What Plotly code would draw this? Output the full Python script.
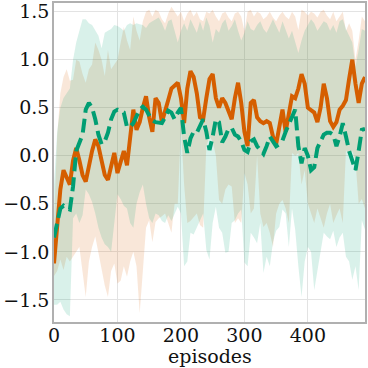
import plotly.graph_objects as go

episodes = list(range(0, 495, 5))

orange_mean = [
    -1.12, -0.75, -0.35, -0.15, -0.22, -0.30, -0.05, 0.08, -0.05, -0.20,
    -0.27, -0.10, 0.05, 0.17, 0.10, -0.05, -0.20, -0.25, -0.10, 0.03,
    -0.18, -0.05, 0.05, -0.10, 0.20, 0.48, 0.27, 0.35, 0.50, 0.62,
    0.40, 0.25, 0.60, 0.55, 0.35, 0.45, 0.58, 0.70, 0.73, 0.76,
    0.60, 0.34, 0.70, 0.88, 0.82, 0.65, 0.40, 0.38, 0.60, 0.80,
    0.85, 0.60, 0.50, 0.60, 0.55, 0.45, 0.38, 0.60, 0.76, 0.55,
    0.25, 0.10, 0.55, 0.58, 0.40, 0.36, 0.34, 0.36, 0.34, 0.20,
    0.12, 0.30, 0.48, 0.25, 0.45, 0.62, 0.60, 0.70, 0.85, 0.75,
    0.50, 0.48, 0.45, 0.35, 0.50, 0.75, 0.60, 0.36, 0.30, 0.35,
    0.48, 0.52, 0.58, 0.80, 1.00, 0.75, 0.55, 0.75, 0.82,
]

green_mean = [
    -0.85, -0.70, -0.55, -0.52, -0.55, -0.56, -0.32, 0.05, 0.15, 0.22,
    0.48, 0.55, 0.50, 0.38, 0.22, 0.12, 0.15, 0.24, 0.38, 0.46,
    0.48, 0.47, 0.45, 0.30, 0.30, 0.34, 0.40, 0.48, 0.51, 0.48,
    0.42, 0.37, 0.35, 0.34, 0.34, 0.40, 0.47, 0.45, 0.38, 0.45,
    0.50, 0.20, 0.03, 0.18, 0.25, 0.24, 0.30, 0.38, 0.25, 0.06,
    0.20, 0.38, 0.35, 0.14, 0.20, 0.28, 0.29, 0.22, 0.20, 0.15,
    0.06, 0.04, 0.15, 0.17, 0.10, 0.06, 0.02, 0.10, 0.20, 0.15,
    0.10, 0.12, 0.16, 0.25, 0.32, 0.40, 0.48, 0.10, -0.08, 0.08,
    0.00, -0.15, -0.12, 0.08, 0.15, 0.22, 0.24, 0.24, 0.22, 0.10,
    0.20, 0.34, 0.20, 0.05, -0.05, -0.15, 0.05, 0.27, 0.28,
]

orange_upper = [
    -0.70, 0.20, 0.65, 0.82, 0.90, 0.78, 0.79, 1.00, 0.98, 0.85,
    0.76, 0.90, 0.95, 1.18, 1.10, 1.00, 0.83, 1.10, 0.90, 0.95,
    1.00, 1.18, 1.34, 1.20, 1.10, 1.45, 1.30, 1.20, 1.40, 1.50,
    1.52, 1.45, 1.52, 1.50, 1.42, 1.38, 1.48, 1.55, 1.50, 1.45,
    1.50, 1.40, 1.48, 1.52, 1.45, 1.50, 1.42, 1.40, 1.50, 1.48,
    1.52, 1.45, 1.40, 1.48, 1.50, 1.44, 1.40, 1.48, 1.50, 1.45,
    1.30, 1.50, 1.52, 1.45, 1.50, 1.48, 1.42, 1.45, 1.50, 1.44,
    1.40, 1.46, 1.50, 1.45, 1.42, 1.50, 1.45, 1.31, 1.52, 1.50,
    1.46, 1.50, 1.48, 1.44, 1.50, 1.52, 1.46, 1.42, 1.50, 1.40,
    1.45, 1.50, 1.30, 1.38, 1.30, 1.00, 1.20, 1.45, 1.40,
]

orange_lower = [
    -1.25, -1.20, -1.08, -1.19, -1.05, -1.10, -1.05, -1.00, -0.95, -1.20,
    -1.47, -1.10, -0.95, -0.84, -1.00, -1.19, -1.35, -1.47, -1.20, -1.12,
    -1.33, -1.30, -1.15, -1.26, -1.10, -1.00, -1.15, -1.64, -1.20, -0.75,
    -0.67, -0.90, -0.69, -0.65, -0.63, -0.60, -0.70, -0.80, -0.50, -0.50,
    0.30, -0.30, -0.70, -0.68, -0.64, -0.60, -0.72, -0.75, 0.10, 0.20,
    0.15, 0.00, -0.46, -0.50, -0.35, -0.30, -0.32, -0.70, -0.65, -0.70,
    -0.18, -0.30, -0.60, -0.55, 0.00, -0.60, -0.74, -0.70, -0.80, -0.95,
    -0.60, -0.50, -0.46, -0.55, -0.70, 0.03, 0.00, 0.03, -0.30, -0.15,
    -0.50, -0.60, -0.70, -0.55, -0.65, -0.75, -0.60, -0.50, -0.70, -0.62,
    -0.55, -0.70, 0.06, 0.00, 0.05, -0.05, -0.50, -0.45, -0.55,
]

green_upper = [
    -0.30, 0.25, 0.50, 0.60, 0.65, 0.70, 1.00, 1.18, 1.30, 1.42,
    1.42, 1.38, 1.36, 1.30, 1.25, 1.12, 1.28, 1.30, 1.32, 1.36,
    1.35, 1.33, 1.30, 1.36, 1.38, 1.36, 1.38, 1.37, 1.36, 1.33,
    1.38, 1.40, 1.42, 1.44, 1.38, 1.30, 1.40, 1.42, 1.30, 1.18,
    1.30, 1.38, 1.30, 1.42, 1.35, 1.28, 1.40, 1.30, 1.44, 1.35,
    1.18, 1.32, 1.28, 1.38, 1.42, 1.30, 1.35, 1.42, 1.30, 1.20,
    1.28, 1.40, 1.32, 1.30, 1.36, 1.40, 1.32, 1.28, 1.35, 1.42,
    1.35, 1.28, 1.40, 1.30, 1.22, 1.30, 1.18, 1.07, 1.20, 1.30,
    1.36, 1.42, 1.38, 1.30, 1.35, 1.40, 1.38, 1.30, 1.36, 1.28,
    1.40, 1.42, 1.32, 1.25, 1.18, 0.93, 1.10, 1.32, 1.30,
]

green_lower = [
    -1.55, -1.55, -1.52, -1.60, -1.65, -1.67, -0.65, -0.60, -0.70, -0.62,
    -0.35, -0.40, -0.48, -0.60, -0.75, -0.85, -0.92, -0.95, -1.00, -0.70,
    -0.40, -0.45, -0.52, -0.55, -0.70, -0.75, -0.50, -0.38, -0.30, -0.50,
    -0.65, -0.70, -0.60, -0.62, -0.68, -0.70, -0.62, -0.68, -0.60, -0.53,
    -0.60, -1.15, -1.10, -0.80, -0.82, -0.75, -0.67, -0.60, -0.98, -1.08,
    -0.70, -0.53, -0.75, -0.80, -1.01, -1.00, -0.70, -0.67, -0.60, -0.56,
    -1.11, -1.15, -0.80, -0.85, -0.91, -0.70, -1.22, -1.05, -1.15, -0.90,
    -0.78, -0.74, -0.56, -0.60, -0.95, -0.55, -0.77, -1.15, -1.47, -1.10,
    -0.95, -1.00, -1.40, -1.20, -1.00, -0.80, -0.84, -0.87, -0.78, -0.95,
    -0.85, -0.80, -1.05, -1.10, -1.29, -1.15, -1.40, -0.67, -0.77,
]

x_ticks = [0, 100, 200, 300, 400]
y_ticks = [-1.5, -1.0, -0.5, 0.0, 0.5, 1.0, 1.5]
y_tick_text = ["\u22121.5", "\u22121.0", "\u22120.5", "0.0", "0.5", "1.0", "1.5"]
x_title = "episodes"

ORANGE = "#d55e00"
GREEN = "#009e73"

fig = go.Figure()

for upper, lower, fillc in [
    (orange_upper, orange_lower, "rgba(213,94,0,0.15)"),
    (green_upper, green_lower, "rgba(0,158,115,0.15)"),
]:
    fig.add_trace(go.Scatter(
        x=episodes + episodes[::-1],
        y=upper + lower[::-1],
        fill="toself",
        fillcolor=fillc,
        line=dict(width=0),
        mode="lines",
        hoverinfo="skip",
        showlegend=False,
    ))

fig.add_trace(go.Scatter(
    x=episodes, y=orange_mean, mode="lines",
    line=dict(color=ORANGE, width=4),
    showlegend=False,
))
fig.add_trace(go.Scatter(
    x=episodes, y=green_mean, mode="lines",
    line=dict(color=GREEN, width=4, dash="14px,6px"),
    showlegend=False,
))

font_family = "DejaVu Serif, Liberation Serif, serif"
fig.update_layout(
    width=368, height=368,
    margin=dict(l=54, r=3, t=3, b=46),
    paper_bgcolor="white",
    plot_bgcolor="white",
    font=dict(family=font_family, size=19, color="#111111"),
    showlegend=False,
    annotations=[dict(
        text=x_title, xref="paper", yref="paper", x=0.5, y=-0.108,
        xanchor="center", yanchor="middle", showarrow=False,
        font=dict(family=font_family, size=19, color="#111111"),
    )],
)
fig.update_xaxes(
    range=[0, 490],
    tickvals=x_ticks,
    showgrid=True, gridcolor="#e3e3e3", gridwidth=1,
    showline=True, mirror=True, linecolor="#b0b0b0", linewidth=1.5,
    zeroline=False, ticks="", automargin=False,
    ticklabelstandoff=-5,
    tickfont=dict(family=font_family, size=19),
)
fig.update_yaxes(
    range=[-1.73, 1.59],
    tickvals=y_ticks, ticktext=y_tick_text,
    showgrid=True, gridcolor="#e3e3e3", gridwidth=1,
    showline=True, mirror=True, linecolor="#b0b0b0", linewidth=1.5,
    zeroline=False, ticks="", automargin=False,
    ticklabelstandoff=-1,
    tickfont=dict(family=font_family, size=19),
)

fig.write_html(
    "out.html",
    config={"displayModeBar": False},
    post_script="document.body.style.margin='0';document.body.style.padding='0';",
)
